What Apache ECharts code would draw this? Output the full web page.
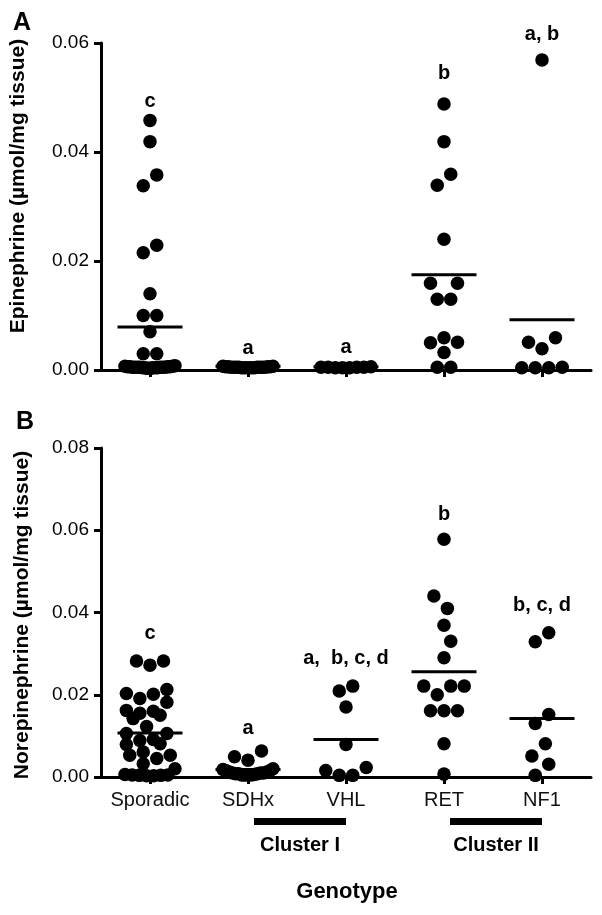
<!DOCTYPE html>
<html>
<head>
<meta charset="utf-8">
<script src="https://cdn.jsdelivr.net/npm/echarts@6/dist/echarts.min.js"></script>
<style>
html,body{margin:0;padding:0;background:#fff;}
#c{width:602px;height:915px;}
</style>
</head>
<body>
<div id="c"></div>
<script>
// ---------------- data ----------------
const categories = ['Sporadic', 'SDHx', 'VHL', 'RET', 'NF1'];

// Panel A: Epinephrine (µmol/mg tissue)
const epiSporadic = [0.0458, 0.0419, 0.0358, 0.0338, 0.0229, 0.0215, 0.0140, 0.0100, 0.0100, 0.0070, 0.0030, 0.0030,
  0.0008, 0.0007, 0.0007, 0.0006, 0.0006, 0.0006, 0.0006, 0.0005, 0.0005, 0.0005, 0.0005, 0.0005, 0.0005, 0.0005,
  0.0004, 0.0004, 0.0004, 0.0004, 0.0004, 0.0003, 0.0003];
const epiSDHx = [0.0007, 0.0007, 0.0006, 0.0006, 0.0006, 0.0006, 0.0005, 0.0005, 0.0005, 0.0005, 0.0005, 0.0005,
  0.0005, 0.0005, 0.0004, 0.0004, 0.0004, 0.0004, 0.0004, 0.0004];
const epiVHL = [0.0006, 0.0005, 0.0005, 0.0005, 0.0005, 0.0004, 0.0004, 0.0004];
const epiRET = [0.0488, 0.0419, 0.0359, 0.0339, 0.0240, 0.0159, 0.0159, 0.0130, 0.0130, 0.0059, 0.0051, 0.0050, 0.0032, 0.0005, 0.0005];
const epiNF1 = [0.0569, 0.0059, 0.0051, 0.0039, 0.0005, 0.0004, 0.0004, 0.0004];
const epiMeans = [0.0079, 0.0007, 0.0006, 0.0175, 0.0092];
const epiTicks = [0, 0.02, 0.04, 0.06];
const epiLetters = ['c', 'a', 'a', 'b', 'a, b'];
const epiLetterY = [0.0493, 0.0040, 0.0042, 0.0544, 0.0615];

// Panel B: Norepinephrine (µmol/mg tissue)
const norSporadic = [0.0282, 0.0272, 0.0282, 0.0213, 0.0203, 0.0201, 0.0191, 0.0182, 0.0162, 0.0160, 0.0155, 0.0150,
  0.0142, 0.0123, 0.0106, 0.0106, 0.0091, 0.0089, 0.0081, 0.0079, 0.0061, 0.0053, 0.0053, 0.0045, 0.0032, 0.0020,
  0.0006, 0.0005, 0.0005, 0.0004, 0.0004, 0.0003, 0.0003];
const norSDHx = [0.0063, 0.0049, 0.0041, 0.0020, 0.0018, 0.0015, 0.0015, 0.0012, 0.0012, 0.0010, 0.0010, 0.0010,
  0.0008, 0.0008, 0.0008, 0.0006, 0.0005, 0.0005, 0.0005, 0.0005];
const norVHL = [0.0221, 0.0209, 0.0170, 0.0079, 0.0023, 0.0016, 0.0004, 0.0004];
const norRET = [0.0578, 0.0440, 0.0410, 0.0369, 0.0330, 0.0290, 0.0221, 0.0221, 0.0221, 0.0200, 0.0161, 0.0161, 0.0161, 0.0081, 0.0007];
const norNF1 = [0.0351, 0.0329, 0.0152, 0.0130, 0.0081, 0.0051, 0.0031, 0.0004];
const norMeans = [0.0107, 0.0018, 0.0091, 0.0256, 0.0142];
const norTicks = [0, 0.02, 0.04, 0.06, 0.08];
const norLetters = ['c', 'a', 'a,  b, c, d', 'b', 'b, c, d'];
const norLetterY = [0.0350, 0.0119, 0.0289, 0.0638, 0.0417];

const clusters = [
  { name: 'Cluster I', from: 1, to: 2 },
  { name: 'Cluster II', from: 3, to: 4 }
];

// ---------------- style ----------------
const FONT = '"Liberation Sans", Arial, Helvetica, sans-serif';
const DOT = 13.5;        // marker diameter (px)
const CLEAR = 17.5;      // preferred centre distance between neighbouring markers (px)
const MAXHALF = 25;      // max horizontal spread of a column (px)
const ROWBAND = 0.85;    // markers closer than this (x DOT) vertically share a row

const chart = echarts.init(document.getElementById('c'), null, { renderer: 'canvas' });

function yAxisCfg(ticks, gridIndex) {
  return {
    type: 'value', gridIndex: gridIndex, position: 'left',
    min: ticks[0], max: ticks[ticks.length - 1], interval: ticks[1] - ticks[0],
    axisLine: { show: true, onZero: false, lineStyle: { color: '#000', width: 3 } },
    axisTick: { show: true, length: 7, lineStyle: { color: '#000', width: 3 } },
    axisLabel: { margin: 12, fontSize: 19, color: '#000', fontFamily: FONT, formatter: v => v.toFixed(2) },
    splitLine: { show: false }
  };
}
function catAxisCfg(gridIndex, showLabels) {
  return {
    type: 'category', gridIndex: gridIndex, data: categories, boundaryGap: true, position: 'bottom',
    axisLine: { show: true, onZero: false, lineStyle: { color: '#000', width: 3 } },
    axisTick: { show: true, alignWithLabel: true, length: 7, lineStyle: { color: '#000', width: 3 } },
    axisLabel: { show: showLabels, interval: 0, margin: 13, fontSize: 20, color: '#111', fontFamily: FONT },
    splitLine: { show: false }
  };
}
function valXAxisCfg(gridIndex) {
  return {
    type: 'value', gridIndex: gridIndex, min: -0.5, max: 4.5, show: false,
    axisLine: { show: false, onZero: false }, splitLine: { show: false }
  };
}
function meanSeries(xi, yi, means) {
  return {
    type: 'scatter', xAxisIndex: xi, yAxisIndex: yi, symbol: 'rect', symbolSize: [65, 3],
    itemStyle: { color: '#000', opacity: 1 }, silent: true, z: 4,
    data: means.map((m, i) => [i, m])
  };
}
function letterSeries(xi, yi, letters, ys) {
  return {
    type: 'scatter', xAxisIndex: xi, yAxisIndex: yi, symbolSize: 0, clip: false, silent: true, z: 5,
    itemStyle: { color: '#000', opacity: 1 },
    label: {
      show: true, position: 'inside', formatter: p => letters[p.dataIndex], opacity: 1,
      fontSize: 20, fontWeight: 'bold', color: '#000', fontFamily: FONT
    },
    data: ys.map((y, i) => [i, y])
  };
}
function dotSeries(xi, yi) {
  return {
    type: 'scatter', xAxisIndex: xi, yAxisIndex: yi, symbol: 'circle', symbolSize: DOT,
    itemStyle: { color: '#000', opacity: 1 }, silent: true, z: 3, data: []
  };
}

const option = {
  animation: false,
  backgroundColor: '#fff',
  grid: [
    { left: 101, width: 490, top: 43, height: 327 },
    { left: 101, width: 490, top: 448, height: 329 }
  ],
  xAxis: [catAxisCfg(0, false), valXAxisCfg(0), catAxisCfg(1, true), valXAxisCfg(1)],
  yAxis: [yAxisCfg(epiTicks, 0), yAxisCfg(norTicks, 1)],
  series: [
    dotSeries(1, 0), meanSeries(1, 0, epiMeans), letterSeries(1, 0, epiLetters, epiLetterY),
    dotSeries(3, 1), meanSeries(3, 1, norMeans), letterSeries(3, 1, norLetters, norLetterY)
  ]
};
chart.setOption(option);

// ---------------- dot layout (row-based swarm) ----------------
function overlapCost(xs, ys, placed) {
  let c = 0;
  for (let k = 0; k < xs.length; k++) {
    for (const q of placed) {
      const dx = q.x - xs[k], dy = q.y - ys[k];
      const dist = Math.sqrt(dx * dx + dy * dy);
      if (dist < DOT) c += 4 * (DOT - dist) * (DOT - dist);
      if (dist < CLEAR) c += (CLEAR - dist) * (CLEAR - dist);
    }
  }
  return c;
}
// slot order from the centre outwards, so that a row stays symmetric
function centreOutSlots(n) {
  const slots = [];
  for (let k = 0; k < n; k++) slots.push(k);
  const mid = (n - 1) / 2;
  return slots.sort((a, b) => (Math.abs(a - mid) - Math.abs(b - mid)) || (a - b));
}
function swarm(vals, toPy) {
  const pts = vals.map((v, i) => ({ i: i, v: v, y: toPy(v), x: 0 }));
  const order = pts.slice().sort((a, b) => b.y - a.y); // bottom first
  const rows = [];
  let cur = null;
  for (const p of order) {
    if (cur && cur.y0 - p.y < DOT * ROWBAND) { cur.pts.push(p); }
    else { cur = { y0: p.y, pts: [p] }; rows.push(cur); }
  }
  const placed = [];
  for (const row of rows) {
    const n = row.pts.length;
    const slotOf = centreOutSlots(n);
    const ys = row.pts.map(p => p.y);
    const base = n > 1 ? Math.min(DOT, 2 * MAXHALF / (n - 1)) : DOT;
    const spacings = n > 1 ? [base, base * 1.25, base * 1.5, base * 2, base * 3, 2 * MAXHALF / (n - 1)] : [0];
    const layout = (s, sp) => row.pts.map((p, k) => s + (slotOf[k] - (n - 1) / 2) * sp);
    let best = null;
    for (const sp of spacings) {
      const half = (n - 1) * sp / 2;
      if (half > MAXHALF + 1e-6) continue;
      const room = MAXHALF - half;
      const step = DOT / 4;
      const xs0 = layout(0, sp);
      const c0 = overlapCost(xs0, ys, placed) + 0.02 * (sp - base) * (n - 1);
      if (!best || c0 < best.cost - 1e-9) best = { cost: c0, xs: xs0 };
      for (let sh = step; sh <= room + 1e-6; sh += step) {
        for (const s of [sh, -sh]) {
          const xs = layout(s, sp);
          const cost = overlapCost(xs, ys, placed) + 0.03 * Math.abs(s) + 0.02 * (sp - base) * (n - 1);
          if (cost < best.cost - 1e-9) best = { cost: cost, xs: xs };
        }
      }
    }
    row.pts.forEach((p, k) => { p.x = best.xs[k]; placed.push(p); });
  }
  return pts.map(p => p.x);
}

const panels = [
  { groups: [epiSporadic, epiSDHx, epiVHL, epiRET, epiNF1], xi: 1, yi: 0, seriesIndex: 0 },
  { groups: [norSporadic, norSDHx, norVHL, norRET, norNF1], xi: 3, yi: 1, seriesIndex: 3 }
];
const seriesUpdate = [{}, {}, {}, {}, {}, {}];
panels.forEach(pn => {
  const pxPerUnit = chart.convertToPixel({ xAxisIndex: pn.xi }, 1) - chart.convertToPixel({ xAxisIndex: pn.xi }, 0);
  const toPy = v => chart.convertToPixel({ yAxisIndex: pn.yi }, v);
  const data = [];
  pn.groups.forEach((vals, gi) => {
    const offs = swarm(vals, toPy);
    vals.forEach((v, k) => data.push([gi + offs[k] / pxPerUnit, v]));
  });
  seriesUpdate[pn.seriesIndex] = { data: data };
});

// ---------------- annotations ----------------
const cx = v => chart.convertToPixel({ xAxisIndex: 3 }, v);
const graphics = [
  { type: 'text', x: 22, y: 23, style: { text: 'A', font: 'bold 25px ' + FONT, fill: '#000', textAlign: 'center', textVerticalAlign: 'middle' } },
  { type: 'text', x: 25, y: 422, style: { text: 'B', font: 'bold 25px ' + FONT, fill: '#000', textAlign: 'center', textVerticalAlign: 'middle' } },
  { type: 'text', x: 18.5, y: 186, rotation: Math.PI / 2, style: { text: 'Epinephrine (µmol/mg tissue)', font: 'bold 21px ' + FONT, fill: '#000', textAlign: 'center', textVerticalAlign: 'middle' } },
  { type: 'text', x: 22.5, y: 615, rotation: Math.PI / 2, style: { text: 'Norepinephrine (µmol/mg tissue)', font: 'bold 21px ' + FONT, fill: '#000', textAlign: 'center', textVerticalAlign: 'middle' } },
  { type: 'text', x: 347, y: 891.5, style: { text: 'Genotype', font: 'bold 22px ' + FONT, fill: '#000', textAlign: 'center', textVerticalAlign: 'middle' } }
];
clusters.forEach(c => {
  const x0 = cx(c.from) + 6, x1 = cx(c.to);
  graphics.push({ type: 'rect', shape: { x: x0, y: 818, width: x1 - x0, height: 7 }, style: { fill: '#000' } });
  graphics.push({ type: 'text', x: (x0 + x1) / 2, y: 845.5, style: { text: c.name, font: 'bold 20px ' + FONT, fill: '#000', textAlign: 'center', textVerticalAlign: 'middle' } });
});

chart.setOption({ series: seriesUpdate, graphic: graphics });
</script>
</body>
</html>
